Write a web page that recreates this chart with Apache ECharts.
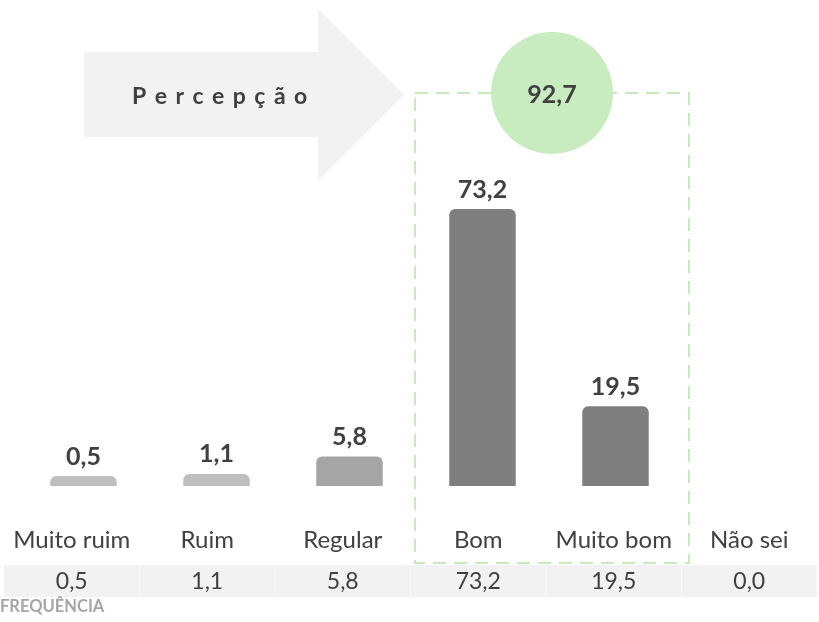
<!DOCTYPE html>
<html>
<head>
<meta charset="utf-8">
<script src="https://cdn.jsdelivr.net/npm/echarts@6/dist/echarts.min.js"></script>
<style>
  html, body { margin: 0; padding: 0; background: #fff; }
  #chart { width: 819px; height: 622px; }
</style>
</head>
<body>
<div id="chart"></div>
<script>
// dados
var categorias = ['Muito ruim', 'Ruim', 'Regular', 'Bom', 'Muito bom', 'Não sei'];
var frequencia = [0.5, 1.1, 5.8, 73.2, 19.5, 0.0];
var percepcao = 92.7;

// cores das barras
var coresBarras = ['#bfbfbf', '#bfbfbf', '#a5a5a5', '#7f7f7f', '#7f7f7f', '#7f7f7f'];
var corTexto = '#404040';
var Y_MIN = -2.2;

function fmt(v) {
    return v.toFixed(1).replace('.', ',');
}

var chart = echarts.init(document.getElementById('chart'));

function renderBar(params, api) {
    var v = api.value(1);
    if (!v) return;
    var topo = api.coord([api.value(0), v]);
    var base = api.coord([api.value(0), Y_MIN]);
    var w = api.size([1, 0])[0] * 0.5;
    return {
        type: 'group',
        children: [{
            type: 'rect',
            shape: { x: topo[0] - w / 2, y: topo[1], width: w, height: base[1] - topo[1], r: [6, 6, 0, 0] },
            style: { fill: coresBarras[params.dataIndex] }
        }, {
            type: 'text',
            x: topo[0],
            y: topo[1] - 7,
            style: {
                text: fmt(v),
                fill: corTexto,
                font: 'bold 25px Lato',
                textAlign: 'center',
                textVerticalAlign: 'bottom'
            }
        }]
    };
}

var option = {
    animation: false,
    grid: [{
        left: 17, width: 798, top: 110.5, bottom: 136
    }, {
        left: 4, width: 822, top: 486, bottom: 57
    }],
    xAxis: [{
        type: 'category', gridIndex: 0, data: categorias, show: false
    }, {
        type: 'category', gridIndex: 1, data: categorias, position: 'bottom',
        axisLine: { show: false }, axisTick: { show: false },
        axisLabel: {
            interval: 0, inside: true, margin: 25, verticalAlign: 'middle',
            fontFamily: 'Lato', fontSize: 24, color: corTexto
        }
    }, {
        type: 'category', gridIndex: 1, data: categorias, position: 'bottom',
        axisLine: { show: false }, axisTick: { show: false },
        axisLabel: {
            interval: 0, margin: 0, verticalAlign: 'top', align: 'center',
            width: 135, height: 32, lineHeight: 34, backgroundColor: '#f2f2f2',
            fontFamily: 'Lato', fontSize: 23, color: corTexto,
            formatter: function (val, idx) { return fmt(frequencia[idx]); }
        }
    }],
    yAxis: [{
        type: 'value', gridIndex: 0, min: Y_MIN, max: 100, show: false
    }, {
        type: 'value', gridIndex: 1, show: false
    }],
    graphic: [{
        type: 'polygon',
        shape: { points: [[84, 52], [318, 52], [318, 9], [404, 95], [318, 180], [318, 137], [84, 137]] },
        style: { fill: '#f2f2f2' },
        z: 0
    }, {
        type: 'text',
        x: 132, y: 97,
        style: {
            text: 'P\u2009 e\u2009 r\u2009 c\u2009 e\u2009 p\u2009 ç\u2009 ã\u2009 o',
            font: 'bold 23px Lato',
            fill: corTexto,
            textVerticalAlign: 'middle'
        },
        z: 1
    }, {
        type: 'rect',
        shape: { x: 415, y: 93, width: 274, height: 470 },
        style: { fill: 'none', stroke: '#c6e9bd', lineWidth: 2, lineDash: [13, 8] },
        z: 1
    }, {
        type: 'circle',
        shape: { cx: 552, cy: 93, r: 61 },
        style: { fill: '#c8ecbf' },
        z: 2
    }, {
        type: 'text',
        x: 552, y: 95,
        style: {
            text: fmt(percepcao),
            font: 'bold 25px Lato',
            fill: corTexto,
            textAlign: 'center',
            textVerticalAlign: 'middle'
        },
        z: 3
    }, {
        type: 'text',
        x: 0, y: 607,
        style: {
            text: 'FREQUÊNCIA',
            font: 'bold 16.5px Lato',
            fill: '#a6a6a6',
            textVerticalAlign: 'middle'
        },
        z: 3
    }],
    series: [{
        type: 'custom',
        xAxisIndex: 0,
        yAxisIndex: 0,
        renderItem: renderBar,
        encode: { x: 0, y: 1 },
        data: categorias.map(function (c, i) { return [i, frequencia[i]]; })
    }]
};

chart.setOption(option);
</script>
</body>
</html>
